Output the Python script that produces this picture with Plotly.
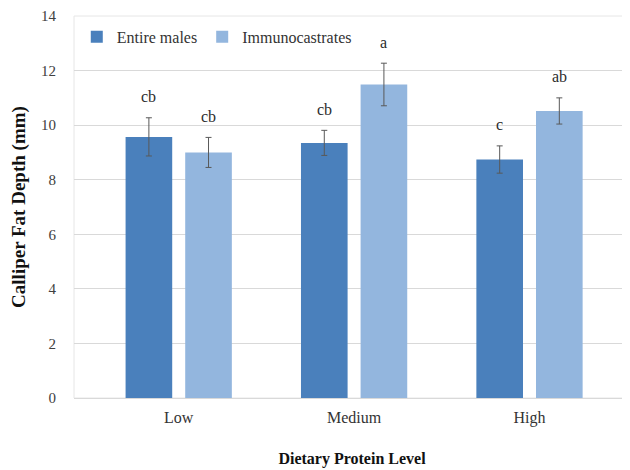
import plotly.graph_objects as go

categories = ["Low", "Medium", "High"]
entire_males = [9.57, 9.35, 8.74]
entire_males_err = [0.7, 0.46, 0.5]
entire_males_letters = ["cb", "cb", "c"]
immunocastrates = [9.0, 11.49, 10.52]
immunocastrates_err = [0.55, 0.78, 0.48]
immunocastrates_letters = ["cb", "a", "ab"]
y_ticks = [0, 2, 4, 6, 8, 10, 12, 14]

C_EM = "#4A80BC"
C_IC = "#93B6DE"
SERIF = "Liberation Serif, Times New Roman, serif"

xs = list(range(len(categories)))
fig = go.Figure()
for name, vals, errs, col in [
    ("Entire males", entire_males, entire_males_err, C_EM),
    ("Immunocastrates", immunocastrates, immunocastrates_err, C_IC),
]:
    fig.add_trace(go.Bar(
        x=xs, y=vals, name=name, marker=dict(color=col, line=dict(width=0)),
        error_y=dict(type="data", array=errs, visible=True, color="#595959",
                     thickness=1, width=3),
    ))

bargap = 0.32
groupgap = 0.218
slot = (1 - bargap) / 2
annotations = []
for i in xs:
    for k, (vals, errs, letters) in enumerate([
        (entire_males, entire_males_err, entire_males_letters),
        (immunocastrates, immunocastrates_err, immunocastrates_letters),
    ]):
        xc = i - (1 - bargap) / 2 + slot * (k + 0.5)
        annotations.append(dict(
            x=xc, y=vals[i] + errs[i], xref="x", yref="y", text=letters[i],
            showarrow=False, yshift=21, font=dict(family=SERIF, size=16, color="#2b2b2b"),
        ))

fig.update_layout(
    width=622, height=462,
    margin=dict(l=66, r=0, t=8, b=72),
    paper_bgcolor="white", plot_bgcolor="white",
    barmode="group", bargap=bargap, bargroupgap=groupgap,
    font=dict(family=SERIF, size=16, color="#404040"),
    showlegend=True,
    legend=dict(orientation="h", x=0.005, y=0.99, xanchor="left", yanchor="top",
                font=dict(family=SERIF, size=16, color="#333333"),
                itemwidth=30, traceorder="normal", bgcolor="rgba(0,0,0,0)"),
    annotations=annotations,
    xaxis=dict(
        tickmode="array", tickvals=xs, ticktext=categories,
        range=[-0.597, 2.573], showgrid=False, zeroline=False,
        showline=False, ticks="", ticklabelstandoff=8,
        tickfont=dict(family=SERIF, size=16, color="#333333"),
        title=dict(text="<b>Dietary Protein Level</b>", standoff=26,
                   font=dict(family=SERIF, size=16, color="#111111")),
    ),
    yaxis=dict(
        range=[0, 14], tickvals=y_ticks, showgrid=True, gridcolor="#D9D9D9",
        gridwidth=1, zeroline=True, zerolinecolor="#D9D9D9", zerolinewidth=1,
        showline=False, ticks="", ticklabelstandoff=17,
        tickfont=dict(family=SERIF, size=15, color="#404040"),
        title=dict(text="<b>Calliper Fat Depth (mm)</b>", standoff=13,
                   font=dict(family=SERIF, size=19, color="#111111")),
    ),
    shapes=[dict(type="rect", xref="paper", yref="paper", x0=0, x1=1.05, y0=0, y1=1,
                 line=dict(color="#E6E6E6", width=1), layer="below")],
)

fig.write_html("out.html")
